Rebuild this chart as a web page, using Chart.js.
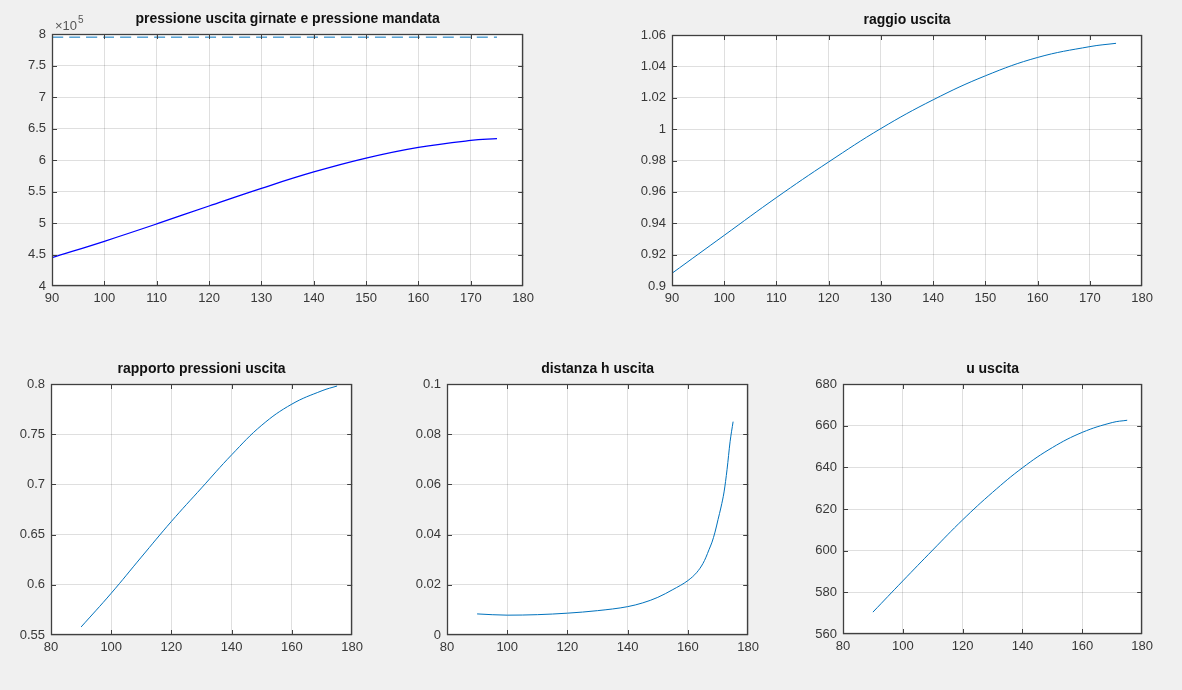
<!DOCTYPE html>
<html>
<head>
<meta charset="utf-8">
<script src="https://cdn.jsdelivr.net/npm/chart.js@4.4.1/dist/chart.umd.min.js"></script>
<style>
  html, body { margin:0; padding:0; background:#f0f0f0; }
  body { width:1182px; height:690px; position:relative; overflow:hidden; }
  .box { position:absolute; }
  canvas { display:block; }
</style>
</head>
<body>
<div class="box" id="b1" style="left:2px;top:4px;"><canvas id="c1" width="537" height="307"></canvas></div>
<div class="box" id="b2" style="left:622px;top:5px;"><canvas id="c2" width="536" height="306"></canvas></div>
<div class="box" id="b3" style="left:1px;top:354px;"><canvas id="c3" width="367" height="306"></canvas></div>
<div class="box" id="b4" style="left:397px;top:354px;"><canvas id="c4" width="367" height="306"></canvas></div>
<div class="box" id="b5" style="left:793px;top:354px;"><canvas id="c5" width="365" height="305"></canvas></div>
<script>
// ---- data ----
const xAngle = [90, 100, 110, 120, 130, 140, 150, 160, 170, 175];
const pressioneUscita = [445000, 471000, 498500, 527000, 555000, 581000, 603000, 620000, 631000, 634000];
const xMandata = [90, 175];
const pressioneMandata = [795000, 795000];
const raggioUscita = [0.9081, 0.9323, 0.9564, 0.9791, 1.0004, 1.0187, 1.0340, 1.0457, 1.0526, 1.0547];
const rapportoPressioni = [0.558, 0.5916, 0.6276, 0.6632, 0.6965, 0.7295, 0.7590, 0.7800, 0.7933, 0.7980];
const xDistanza = [90, 100, 110, 120, 130, 140, 145, 150, 155, 160, 163, 165, 166, 167, 168, 169, 170, 171, 172, 173, 174, 175];
const distanzaH = [0.0084, 0.0079, 0.0081, 0.0087, 0.0097, 0.0113, 0.0128, 0.0150, 0.0181, 0.0217, 0.0250, 0.0285, 0.0310, 0.0340, 0.0370, 0.0410, 0.0460, 0.0510, 0.0570, 0.0660, 0.0770, 0.0850];
const uUscita = [570.5, 585.5, 600.3, 614.8, 628.0, 639.8, 649.5, 656.8, 661.5, 662.6];

const titles = ['pressione uscita girnate e pressione mandata', 'raggio uscita', 'rapporto pressioni uscita', 'distanza h uscita', 'u uscita'];

const MATLAB_BLUE = '#0072BD';
const FONT = '"Liberation Sans", Arial, Helvetica, sans-serif';
const GRID = 'rgba(38,38,38,0.15)';
const AXIS = '#404040';
const TEXT = '#383838';

function pts(xs, ys) { return xs.map((x, i) => ({ x: x, y: ys[i] })); }
function fmt(v) { return String(+v.toFixed(6)); }

const boxPlugin = {
  id: 'matlabBox',
  beforeDraw(chart) {
    const a = chart.chartArea, ctx = chart.ctx;
    ctx.save();
    ctx.fillStyle = '#ffffff';
    ctx.fillRect(a.left, a.top, a.right - a.left, a.bottom - a.top);
    ctx.restore();
  },
  afterDatasetsDraw(chart) {
    const a = chart.chartArea, ctx = chart.ctx;
    const xs = chart.scales.x, ys = chart.scales.y;
    ctx.save();
    ctx.strokeStyle = AXIS;
    ctx.lineWidth = 1;
    ctx.beginPath();
    const L = 5;
    xs.ticks.forEach(t => {
      const p = Math.round(xs.getPixelForValue(t.value)) + 0.5;
      if (p <= a.left + 1 || p >= a.right - 1) return;
      ctx.moveTo(p, a.bottom); ctx.lineTo(p, a.bottom - L);
      ctx.moveTo(p, a.top); ctx.lineTo(p, a.top + L);
    });
    ys.ticks.forEach(t => {
      const p = Math.round(ys.getPixelForValue(t.value)) + 0.5;
      if (p <= a.top + 1 || p >= a.bottom - 1) return;
      ctx.moveTo(a.left, p); ctx.lineTo(a.left + L, p);
      ctx.moveTo(a.right, p); ctx.lineTo(a.right - L, p);
    });
    ctx.stroke();
    ctx.lineWidth = 1.3;
    ctx.strokeRect(Math.round(a.left) + 0.5, Math.round(a.top) + 0.5, Math.round(a.right - a.left) - 1, Math.round(a.bottom - a.top) - 1);
    ctx.restore();
    const ex = chart.options.plugins.exponent;
    if (ex && ex.text) {
      ctx.save();
      ctx.fillStyle = '#555';
      ctx.font = '13px ' + FONT;
      ctx.textBaseline = 'alphabetic';
      const x0 = a.left + 3, y0 = a.top - 4;
      ctx.fillText(ex.text, x0, y0);
      const w = ctx.measureText(ex.text).width;
      ctx.font = '10px ' + FONT;
      ctx.fillText(ex.sup, x0 + w + 1, y0 - 7);
      ctx.restore();
    }
  }
};

function makeChart(id, title, datasets, xOpt, yOpt, extra) {
  const ctx = document.getElementById(id);
  return new Chart(ctx, {
    type: 'line',
    data: { datasets: datasets },
    plugins: [boxPlugin],
    options: {
      responsive: false,
      animation: false,
      locale: 'en-US',
      layout: { padding: { left: 0, right: 15, top: 0, bottom: 0 } },
      elements: { point: { radius: 0, hoverRadius: 0 } },
      plugins: {
        legend: { display: false },
        tooltip: { enabled: false },
        title: {
          display: true, text: title, fullSize: false,
          color: '#111', font: { family: FONT, size: 14, weight: 'bold', lineHeight: '16px' },
          padding: { top: 7, bottom: 7 }
        },
        exponent: extra || {}
      },
      scales: {
        x: {
          type: 'linear', min: xOpt.min, max: xOpt.max,
          afterFit(s) { s.height = 25; },
          grid: { color: GRID, drawTicks: false, lineWidth: 1 },
          border: { display: false },
          ticks: { stepSize: xOpt.step, color: TEXT, padding: 5, maxRotation: 0, autoSkip: false,
                   font: { family: FONT, size: 13 }, callback: v => fmt(v) }
        },
        y: {
          type: 'linear', min: yOpt.min, max: yOpt.max,
          afterFit(s) { s.width = 50; },
          grid: { color: GRID, drawTicks: false, lineWidth: 1 },
          border: { display: false },
          ticks: { stepSize: yOpt.step, color: TEXT, padding: 6, autoSkip: false,
                   font: { family: FONT, size: 13 }, callback: yOpt.cb || (v => fmt(v)) }
        }
      }
    }
  });
}

function lineDS(data, color, width, dash, mode) {
  return {
    data: data, borderColor: color, borderWidth: width || 1,
    borderDash: dash || [], fill: false, pointRadius: 0,
    tension: 0.4, cubicInterpolationMode: mode || 'default'
  };
}

makeChart('c1', titles[0], [
  lineDS(pts(xMandata, pressioneMandata), MATLAB_BLUE, 1, [11, 6]),
  lineDS(pts(xAngle, pressioneUscita), '#0000ff', 1.3)
], { min: 90, max: 180, step: 10 },
   { min: 400000, max: 800000, step: 50000, cb: v => fmt(v / 100000) },
   { text: '\u00d710', sup: '5' });

makeChart('c2', titles[1], [
  lineDS(pts(xAngle, raggioUscita), MATLAB_BLUE, 1)
], { min: 90, max: 180, step: 10 }, { min: 0.9, max: 1.06, step: 0.02 });

makeChart('c3', titles[2], [
  lineDS(pts(xAngle, rapportoPressioni), MATLAB_BLUE, 1)
], { min: 80, max: 180, step: 20 }, { min: 0.55, max: 0.8, step: 0.05 });

makeChart('c4', titles[3], [
  lineDS(pts(xDistanza, distanzaH), MATLAB_BLUE, 1, null, 'monotone')
], { min: 80, max: 180, step: 20 }, { min: 0, max: 0.1, step: 0.02 });

makeChart('c5', titles[4], [
  lineDS(pts(xAngle, uUscita), MATLAB_BLUE, 1)
], { min: 80, max: 180, step: 20 }, { min: 560, max: 680, step: 20 });
</script>
</body>
</html>
